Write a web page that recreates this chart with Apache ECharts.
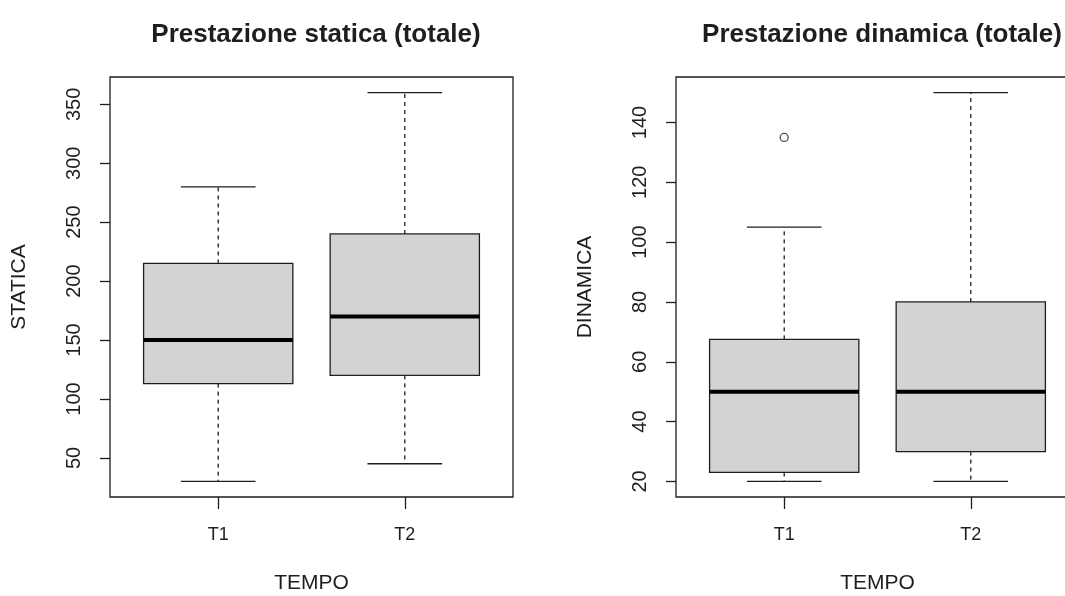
<!DOCTYPE html>
<html>
<head>
    <meta charset="UTF-8">
    <title>Prestazione statica e dinamica</title>
    <script src="https://cdn.jsdelivr.net/npm/echarts@6/dist/echarts.min.js"></script>
</head>
<body style="margin:0;overflow:hidden;background:#fff;">
<div id="chart" style="width:1065px;height:596px;"></div>
<script type="text/javascript">
    // gruppi e statistiche dei boxplot: [min, Q1, mediana, Q3, max]
    var categories = ['T1', 'T2'];
    var staticaStats = [
        [30, 113, 150, 215, 280],
        [45, 120, 170, 240, 360]
    ];
    var dinamicaStats = [
        [20, 23, 50, 67.5, 105],
        [20, 30, 50, 80, 150]
    ];
    // outlier: [gruppo (1-based), valore]
    var dinamicaOutliers = [[1, 135]];
    var staticaTicks = [50, 100, 150, 200, 250, 300, 350];
    var dinamicaTicks = [20, 40, 60, 80, 100, 120, 140];
    var groupTicks = [1, 2];

    var ink = '#1e1e1e';
    var font = "'Liberation Sans', Arial, sans-serif";

    function boxItem(params, api) {
        var x = api.value(0);
        var lo = api.value(1), q1 = api.value(2), med = api.value(3), q3 = api.value(4), hi = api.value(5);
        var halfBox = 0.4, halfCap = 0.2;
        var a = api.coord([x - halfBox, q3]);
        var b = api.coord([x + halfBox, q1]);
        var m1 = api.coord([x - halfBox, med]);
        var m2 = api.coord([x + halfBox, med]);
        var c = api.coord([x, 0]);
        var yHi = api.coord([x, hi])[1], yLo = api.coord([x, lo])[1];
        var capL = api.coord([x - halfCap, 0])[0], capR = api.coord([x + halfCap, 0])[0];
        var thin = {stroke: ink, lineWidth: 1.3};
        var dashed = {stroke: ink, lineWidth: 1.3, lineDash: [4, 4]};
        return {
            type: 'group',
            children: [
                {type: 'line', shape: {x1: c[0], y1: a[1], x2: c[0], y2: yHi}, style: dashed},
                {type: 'line', shape: {x1: c[0], y1: b[1], x2: c[0], y2: yLo}, style: dashed},
                {type: 'line', shape: {x1: capL, y1: yHi, x2: capR, y2: yHi}, style: thin},
                {type: 'line', shape: {x1: capL, y1: yLo, x2: capR, y2: yLo}, style: thin},
                {type: 'rect', shape: {x: a[0], y: a[1], width: b[0] - a[0], height: b[1] - a[1]},
                    style: {fill: '#d3d3d3', stroke: ink, lineWidth: 1.3}},
                {type: 'line', shape: {x1: m1[0], y1: m1[1], x2: m2[0], y2: m2[1]},
                    style: {stroke: '#000', lineWidth: 4}}
            ]
        };
    }

    function xAxisFor(gridIndex) {
        return {
            type: 'value', gridIndex: gridIndex, min: 0.42, max: 2.58,
            name: 'TEMPO', nameLocation: 'middle', nameGap: 76,
            nameTextStyle: {color: ink, fontSize: 21, fontFamily: font},
            axisLine: {show: false},
            splitLine: {show: false},
            axisTick: {show: true, length: 12, customValues: groupTicks, lineStyle: {color: ink, width: 1.3}},
            axisLabel: {
                customValues: groupTicks, margin: 29, color: ink, fontSize: 18, fontFamily: font,
                formatter: function (v) { return categories[v - 1]; }
            }
        };
    }

    function yAxisFor(gridIndex, name, min, max, ticks) {
        return {
            type: 'value', gridIndex: gridIndex, min: min, max: max,
            name: name, nameLocation: 'middle', nameGap: 80,
            nameTextStyle: {color: ink, fontSize: 21, fontFamily: font},
            axisLine: {show: false},
            splitLine: {show: false},
            axisTick: {show: true, length: 10, customValues: ticks, lineStyle: {color: ink, width: 1.3}},
            axisLabel: {customValues: ticks, rotate: 90, margin: 26, color: ink, fontSize: 20, fontFamily: font}
        };
    }

    var chart = echarts.init(document.getElementById('chart'), null, {renderer: 'canvas'});
    chart.setOption({
        animation: false,
        backgroundColor: '#fff',
        title: [{
            text: 'Prestazione statica (totale)', left: 311, top: 17, textAlign: 'center',
            textStyle: {color: ink, fontSize: 26, fontWeight: 'bold', fontFamily: font}
        }, {
            text: 'Prestazione dinamica (totale)', left: 877, top: 17, textAlign: 'center',
            textStyle: {color: ink, fontSize: 26, fontWeight: 'bold', fontFamily: font}
        }],
        grid: [
            {left: 110, top: 77, width: 403, height: 420, show: true, borderColor: ink, borderWidth: 1.3,
                containLabel: false, outerBoundsMode: 'none'},
            {left: 676, top: 77, width: 403, height: 420, show: true, borderColor: ink, borderWidth: 1.3,
                containLabel: false, outerBoundsMode: 'none'}
        ],
        xAxis: [xAxisFor(0), xAxisFor(1)],
        yAxis: [
            yAxisFor(0, 'STATICA', 16.8, 373.2, staticaTicks),
            yAxisFor(1, 'DINAMICA', 14.8, 155.2, dinamicaTicks)
        ],
        series: [{
            type: 'custom', xAxisIndex: 0, yAxisIndex: 0,
            encode: {x: 0, y: [1, 2, 3, 4, 5]},
            data: staticaStats.map(function (s, i) { return [i + 1].concat(s); }),
            renderItem: boxItem
        }, {
            type: 'custom', xAxisIndex: 1, yAxisIndex: 1,
            encode: {x: 0, y: [1, 2, 3, 4, 5]},
            data: dinamicaStats.map(function (s, i) { return [i + 1].concat(s); }),
            renderItem: boxItem
        }, {
            type: 'scatter', xAxisIndex: 1, yAxisIndex: 1,
            data: dinamicaOutliers,
            symbol: 'circle', symbolSize: 8,
            itemStyle: {color: 'rgba(255,255,255,0)', borderColor: ink, borderWidth: 1.3}
        }]
    });
</script>
</body>
</html>
